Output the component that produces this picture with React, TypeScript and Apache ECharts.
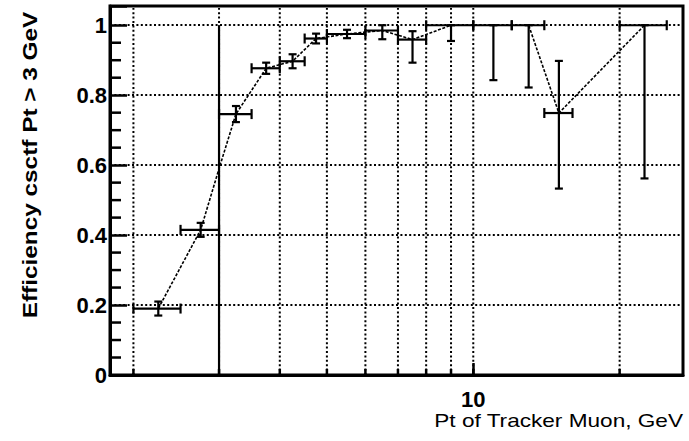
import React, { useEffect, useRef } from "react";
import * as echarts from "echarts";

// Bins (Pt of tracker muon, GeV)
const binCenters = [2.25, 2.75, 3, 3.25, 3.75, 4.25, 4.75, 5.5, 6.5, 7.5, 9, 11, 13, 15, 22.5];
const binLow = [2, 2.5, 3, 3, 3.5, 4, 4.5, 5, 6, 7, 8, 10, 12, 14, 20];
const binHigh = [2.5, 3, 3, 3.5, 4, 4.5, 5, 6, 7, 8, 10, 12, 14, 16, 25];
// Efficiency and asymmetric errors
const efficiency = [0.19, 0.415, 0.59, 0.746, 0.877, 0.897, 0.962, 0.975, 0.985, 0.959, 1.0, 1.0, 1.0, 0.749, 1.0];
const errLow = [0.02, 0.02, 0.59, 0.023, 0.016, 0.02, 0.014, 0.012, 0.025, 0.066, 0.045, 0.157, 0.178, 0.216, 0.438];
const errHigh = [0.02, 0.02, 0.41, 0.023, 0.016, 0.02, 0.014, 0.012, 0.015, 0.024, 0, 0, 0, 0.149, 0];

// Axis structure
const xMin = 1.79;
const xMax = 27;
const yMin = 0;
const yMax = 1.055;
const xGridValues = [2, 3, 4, 5, 6, 7, 8, 9, 10, 20];
const xLabelValues = [10];
const yMajorStep = 0.2;
const yMinorStep = 0.05;

const xTitle = "Pt of Tracker Muon, GeV";
const yTitle = "Efficiency csctf Pt > 3 GeV";

export default function App() {
  const ref = useRef<HTMLDivElement>(null);

  useEffect(() => {
    if (!ref.current) return;
    const chart = echarts.init(ref.current, null, { renderer: "svg" });

    const yMinorValues: number[] = [];
    for (let k = 1; k * yMinorStep <= 1.0001; k++) {
      const v = +(k * yMinorStep).toFixed(4);
      if (Math.abs(v / yMajorStep - Math.round(v / yMajorStep)) > 1e-6) yMinorValues.push(v);
    }

    const dotted = { stroke: "#000", lineWidth: 2, lineDash: [2, 2.4] };
    const barStyle = { stroke: "#000", lineWidth: 2.2 };

    const errData = binCenters.map((x, i) => [
      x,
      efficiency[i],
      binLow[i],
      binHigh[i],
      efficiency[i] - errLow[i],
      efficiency[i] + errHigh[i],
      binLow[i] < binHigh[i] ? 1 : 0,
    ]);

    const option: any = {
      animation: false,
      backgroundColor: "#fff",
      grid: {
        left: 110,
        right: 6,
        top: 6,
        bottom: 66,
        show: true,
        borderColor: "#000",
        borderWidth: 3,
        backgroundColor: "transparent",
      },
      xAxis: {
        type: "log",
        logBase: 10,
        min: xMin,
        max: xMax,
        axisLine: { show: true, lineStyle: { color: "#000", width: 3 } },
        axisTick: { show: true, inside: true, length: 12, lineStyle: { color: "#000", width: 2.5 } },
        splitLine: { show: false },
        axisLabel: {
          show: true,
          showMinLabel: false,
          showMaxLabel: false,
          margin: 13,
          color: "#000",
          fontFamily: "Liberation Sans, Arial, sans-serif",
          fontWeight: "bold",
          fontSize: 22,
          formatter: (v: number) =>
            xLabelValues.some((t) => Math.abs(t - v) < 1e-6 * t) ? String(Math.round(v)) : "",
        },
      },
      yAxis: {
        type: "value",
        min: yMin,
        max: yMax,
        interval: yMajorStep,
        axisLine: { show: true, lineStyle: { color: "#000", width: 3 } },
        axisTick: { show: true, inside: true, length: 17, lineStyle: { color: "#000", width: 2.5 } },
        splitLine: { show: true, lineStyle: { color: "#000", width: 2, type: [2, 2.4] } },
        axisLabel: {
          margin: 3,
          color: "#000",
          fontFamily: "Liberation Sans, Arial, sans-serif",
          fontWeight: "bold",
          fontSize: 22,
          formatter: (v: number) => {
            const r = Math.round(v / yMajorStep) * yMajorStep;
            if (Math.abs(v - r) > 1e-6) return "";
            return String(+r.toFixed(1));
          },
        },
      },
      graphic: [
        {
          type: "text",
          x: 683,
          y: 420,
          scaleX: 1.19,
          style: {
            text: xTitle,
            font: '19px "Liberation Sans", Arial, sans-serif',
            fill: "#000",
            textAlign: "right",
            align: "right",
            textVerticalAlign: "middle",
            verticalAlign: "middle",
          },
        },
        {
          type: "text",
          x: 30,
          y: 165,
          rotation: Math.PI / 2,
          scaleX: 1.16,
          style: {
            text: yTitle,
            font: 'bold 21px "Liberation Sans", Arial, sans-serif',
            fill: "#000",
            textAlign: "center",
            align: "center",
            textVerticalAlign: "middle",
            verticalAlign: "middle",
          },
        },
      ],
      series: [
        {
          name: "xgrid",
          type: "custom",
          z: 1,
          silent: true,
          encode: { x: 0, y: 1 },
          data: xGridValues.map((v) => [v, yMin]),
          renderItem: (_p: any, api: any) => {
            const v = api.value(0);
            const b = api.coord([v, yMin]);
            const t = api.coord([v, yMax]);
            return {
              type: "group",
              children: [
                { type: "line", shape: { x1: b[0], y1: b[1], x2: t[0], y2: t[1] + 2 }, style: dotted },
                { type: "line", shape: { x1: b[0], y1: b[1], x2: b[0], y2: b[1] - 6 }, style: { stroke: "#000", lineWidth: 2.5 } },
              ],
            };
          },
        },
        {
          name: "yminor",
          type: "custom",
          z: 2,
          silent: true,
          encode: { x: 0, y: 1 },
          data: yMinorValues.map((v) => [xMin, v]),
          renderItem: (_p: any, api: any) => {
            const p = api.coord([xMin, api.value(1)]);
            return {
              type: "line",
              shape: { x1: p[0], y1: p[1], x2: p[0] + 11, y2: p[1] },
              style: { stroke: "#000", lineWidth: 2.5 },
            };
          },
        },
        {
          name: "trend",
          type: "line",
          z: 3,
          symbol: "none",
          silent: true,
          data: binCenters.map((x, i) => [x, efficiency[i]]),
          lineStyle: { color: "#000", width: 1.6, type: [3, 1.6] },
        },
        {
          name: "efficiency",
          type: "custom",
          z: 4,
          silent: true,
          encode: { x: 0, y: 1 },
          data: errData,
          renderItem: (_p: any, api: any) => {
            const x = api.value(0);
            const y = api.value(1);
            const xl = api.value(2);
            const xh = api.value(3);
            const yl = api.value(4);
            const yh = api.value(5);
            const cap = api.value(6);
            const c = api.coord([x, y]);
            const cl = api.coord([xl, y]);
            const ch = api.coord([xh, y]);
            const vl = api.coord([x, yl]);
            const vh = api.coord([x, yh]);
            const children: any[] = [];
            if (xh > xl) {
              children.push({ type: "line", shape: { x1: cl[0], y1: c[1], x2: ch[0], y2: c[1] }, style: barStyle });
              children.push({ type: "line", shape: { x1: cl[0], y1: c[1] - 5, x2: cl[0], y2: c[1] + 5 }, style: barStyle });
              children.push({ type: "line", shape: { x1: ch[0], y1: c[1] - 5, x2: ch[0], y2: c[1] + 5 }, style: barStyle });
            }
            children.push({ type: "line", shape: { x1: c[0], y1: vl[1], x2: c[0], y2: vh[1] }, style: barStyle });
            if (cap) {
              children.push({ type: "line", shape: { x1: c[0] - 4, y1: vl[1], x2: c[0] + 4, y2: vl[1] }, style: barStyle });
              children.push({ type: "line", shape: { x1: c[0] - 4, y1: vh[1], x2: c[0] + 4, y2: vh[1] }, style: barStyle });
            }
            return { type: "group", children };
          },
        },
      ],
    };

    chart.setOption(option);
    return () => chart.dispose();
  }, []);

  return (
    <div
      ref={ref}
      style={{ position: "absolute", left: 0, top: 0, width: 689, height: 441 }}
    />
  );
}
